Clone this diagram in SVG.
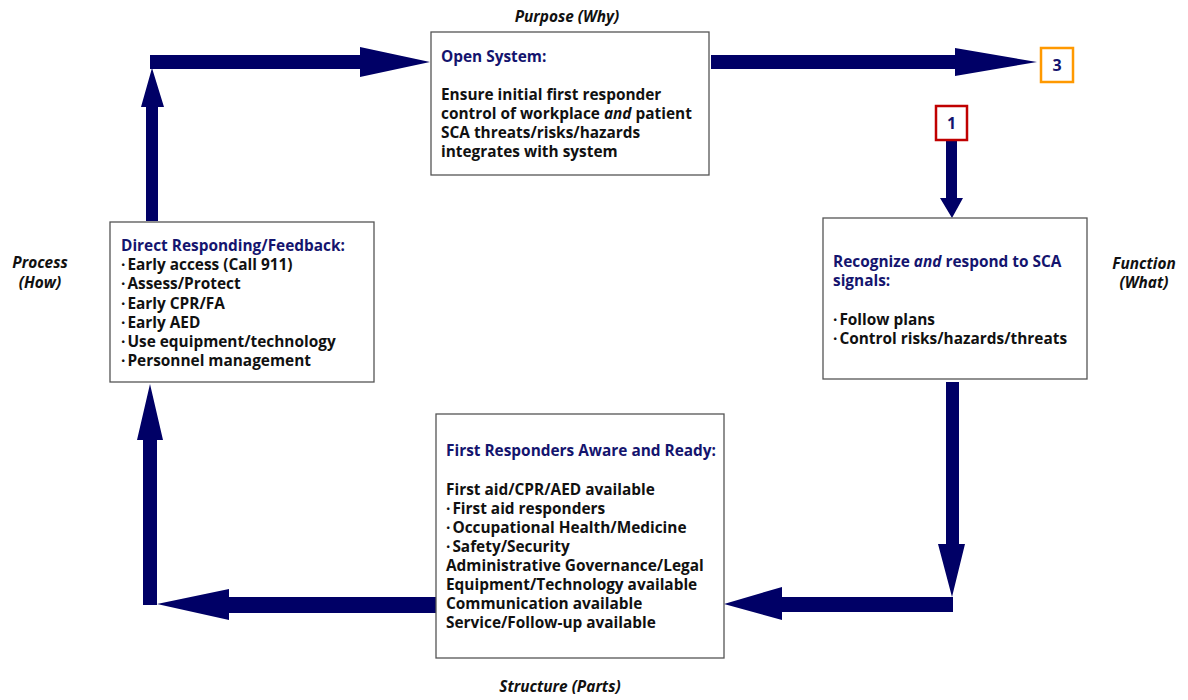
<svg xmlns="http://www.w3.org/2000/svg" width="1188" height="700" viewBox="0 0 1188 700">
<style>
.box{fill:#fff;stroke:#555;stroke-width:1.3}
.arrow{fill:#000066;stroke:none}
.t{font-family:"Open Sans","DejaVu Sans",sans-serif;font-weight:700;font-size:15.4px;fill:#111}
.h{fill:#14146e}
.lab{font-family:"Open Sans","DejaVu Sans",sans-serif;font-weight:700;font-style:italic;font-size:15.4px;fill:#111;text-anchor:middle}
.i{font-style:italic}
.num{font-family:"Open Sans","DejaVu Sans",sans-serif;font-weight:700;font-size:16px;fill:#14146e;text-anchor:middle}
</style>
<rect width="1188" height="700" fill="#fff"/>
<g id="connectors">
<polygon class="arrow" points="150,55 360,55 360,47 430,62 360,77 360,69 150,69"/>
<polygon class="arrow" points="146,221 146,107 141,107 152,68 164,107 158,107 158,221"/>
<polygon class="arrow" points="711,55 955,55 955,48 1037,62 955,76 955,69 711,69"/>
<polygon class="arrow" points="946,141 957,141 957,198 963,198 952,218 940,198 946,198"/>
<polygon class="arrow" points="946,382 959,382 959,544 965,544 952,597 938,544 946,544"/>
<polygon class="arrow" points="953,597 953,612 782,612 782,620 724,604 782,587 782,597"/>
<polygon class="arrow" points="443,597 443,613 229,613 229,620 157,604 229,589 229,597"/>
<polygon class="arrow" points="143,605 143,440 137,440 150,384 163,440 157,440 157,605"/>
</g>
<g id="purpose">
<rect class="box" x="431" y="32" width="278" height="143"/>
<text class="t h" x="441" y="62">Open System:</text>
<text class="t" x="441" y="100">Ensure initial first responder</text>
<text class="t" x="441" y="119">control of workplace <tspan class="i">and</tspan> patient</text>
<text class="t" x="441" y="138">SCA threats/risks/hazards</text>
<text class="t" x="441" y="157">integrates with system</text>
</g>
<g id="function">
<rect class="box" x="823" y="218" width="264" height="161"/>
<text class="t h" x="833" y="267">Recognize <tspan class="i">and</tspan> respond to SCA</text>
<text class="t h" x="833" y="286">signals:</text>
<text class="t" x="833" y="325">·<tspan dx="2">Follow plans</tspan></text>
<text class="t" x="833" y="344">·<tspan dx="2">Control risks/hazards/threats</tspan></text>
</g>
<g id="structure">
<rect class="box" x="436" y="414" width="288" height="244"/>
<text class="t h" x="446" y="456">First Responders Aware and Ready:</text>
<text class="t" x="446" y="495">First aid/CPR/AED available</text>
<text class="t" x="446" y="514">·<tspan dx="2">First aid responders</tspan></text>
<text class="t" x="446" y="533">·<tspan dx="2">Occupational Health/Medicine</tspan></text>
<text class="t" x="446" y="552">·<tspan dx="2">Safety/Security</tspan></text>
<text class="t" x="446" y="571">Administrative Governance/Legal</text>
<text class="t" x="446" y="590">Equipment/Technology available</text>
<text class="t" x="446" y="609">Communication available</text>
<text class="t" x="446" y="628">Service/Follow-up available</text>
</g>
<g id="process">
<rect class="box" x="110" y="222" width="264" height="160"/>
<text class="t h" x="121" y="251">Direct Responding/Feedback:</text>
<text class="t" x="121" y="270">·<tspan dx="2">Early access (Call 911)</tspan></text>
<text class="t" x="121" y="289">·<tspan dx="2">Assess/Protect</tspan></text>
<text class="t" x="121" y="309">·<tspan dx="2">Early CPR/FA</tspan></text>
<text class="t" x="121" y="328">·<tspan dx="2">Early AED</tspan></text>
<text class="t" x="121" y="347">·<tspan dx="2">Use equipment/technology</tspan></text>
<text class="t" x="121" y="366">·<tspan dx="2">Personnel management</tspan></text>
</g>
<g id="badge1">
<rect x="936" y="106" width="31" height="34" fill="#fff" stroke="#c00000" stroke-width="2.5"/>
<text class="num" x="951.5" y="129">1</text>
</g>
<g id="badge3">
<rect x="1041" y="48" width="32" height="34" fill="#fff" stroke="#ff9900" stroke-width="2.5"/>
<text class="num" x="1057" y="71">3</text>
</g>
<g id="labels">
<text class="lab" x="567" y="22">Purpose (Why)</text>
<text class="lab" x="40" y="268">Process</text>
<text class="lab" x="40" y="288">(How)</text>
<text class="lab" x="1144" y="269">Function</text>
<text class="lab" x="1144" y="288">(What)</text>
<text class="lab" x="560" y="692">Structure (Parts)</text>
</g>
</svg>
